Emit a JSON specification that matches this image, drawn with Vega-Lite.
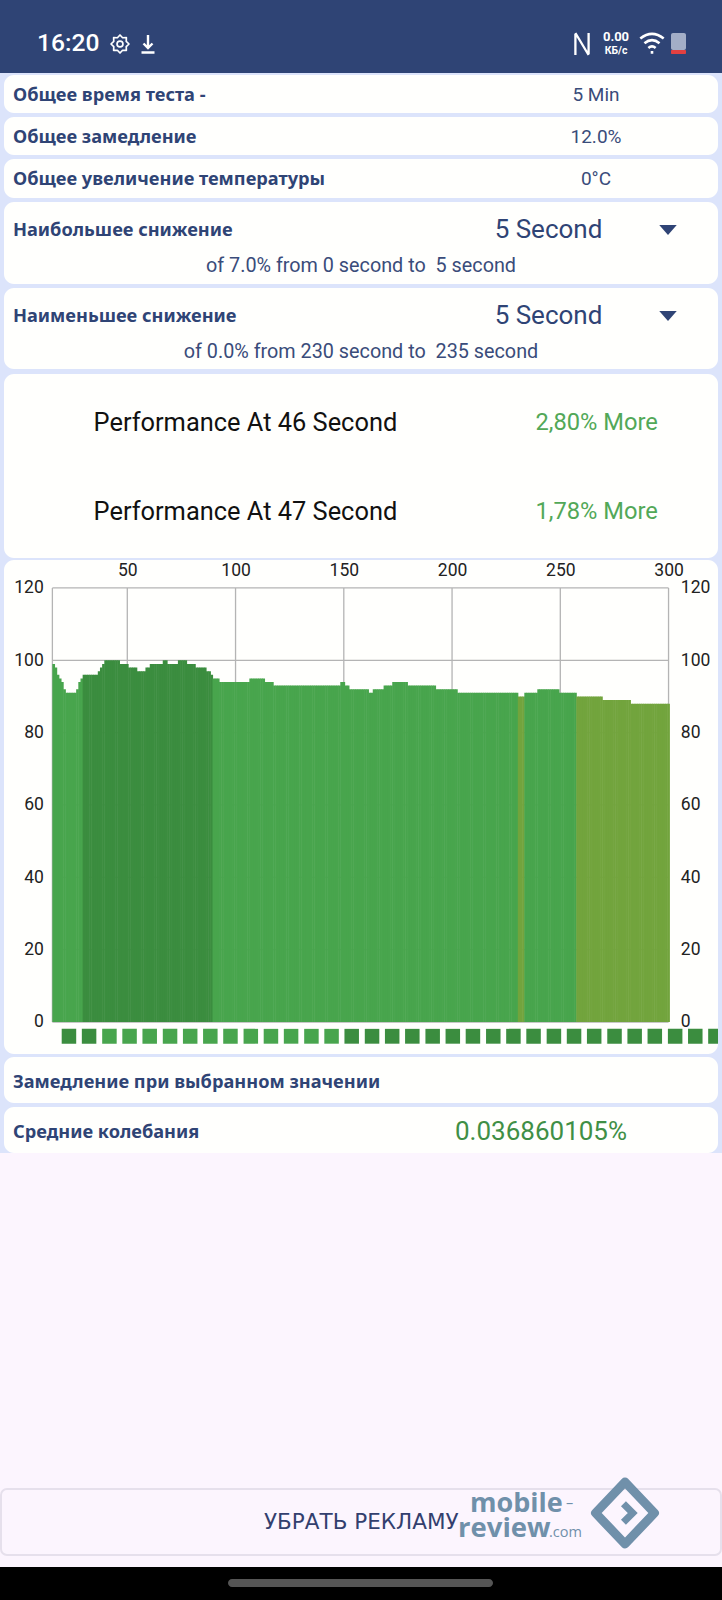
{
  "$schema": "https://vega.github.io/schema/vega-lite/v6.json",
  "padding": 0,
  "spacing": 0,
  "bounds": "flush",
  "center": true,
  "background": "#dce4fb",
  "config": {"view": {"stroke": null}, "text": {"font": "Roboto", "baseline": "middle"}},
  "datasets": {
    "bars": [
      {"second":16,"perf":99,"tone":"mid"},{"second":17,"perf":98,"tone":"mid"},{"second":18,"perf":96,"tone":"mid"},{"second":19,"perf":95,"tone":"mid"},{"second":20,"perf":94,"tone":"mid"},{"second":21,"perf":92,"tone":"mid"},{"second":22,"perf":91,"tone":"mid"},{"second":23,"perf":91,"tone":"mid"},{"second":24,"perf":91,"tone":"mid"},{"second":25,"perf":91,"tone":"mid"},{"second":26,"perf":91,"tone":"mid"},{"second":27,"perf":92,"tone":"mid"},{"second":28,"perf":94,"tone":"mid"},{"second":29,"perf":95,"tone":"mid"},
      {"second":30,"perf":96,"tone":"dark"},{"second":31,"perf":96,"tone":"dark"},{"second":32,"perf":96,"tone":"dark"},{"second":33,"perf":96,"tone":"dark"},{"second":34,"perf":96,"tone":"dark"},{"second":35,"perf":96,"tone":"dark"},{"second":36,"perf":96,"tone":"dark"},{"second":37,"perf":97,"tone":"dark"},{"second":38,"perf":98,"tone":"dark"},{"second":39,"perf":99,"tone":"dark"},
      {"second":40,"perf":100,"tone":"dark"},{"second":41,"perf":100,"tone":"dark"},{"second":42,"perf":100,"tone":"dark"},{"second":43,"perf":100,"tone":"dark"},{"second":44,"perf":100,"tone":"dark"},{"second":45,"perf":100,"tone":"dark"},{"second":46,"perf":100,"tone":"dark"},{"second":47,"perf":99,"tone":"dark"},{"second":48,"perf":99,"tone":"dark"},{"second":49,"perf":99,"tone":"dark"},
      {"second":50,"perf":99,"tone":"dark"},{"second":51,"perf":98,"tone":"dark"},{"second":52,"perf":98,"tone":"dark"},{"second":53,"perf":98,"tone":"dark"},{"second":54,"perf":98,"tone":"dark"},{"second":55,"perf":97,"tone":"dark"},{"second":56,"perf":97,"tone":"dark"},{"second":57,"perf":97,"tone":"dark"},{"second":58,"perf":97,"tone":"dark"},{"second":59,"perf":98,"tone":"dark"},
      {"second":60,"perf":98,"tone":"dark"},{"second":61,"perf":99,"tone":"dark"},{"second":62,"perf":99,"tone":"dark"},{"second":63,"perf":99,"tone":"dark"},{"second":64,"perf":99,"tone":"dark"},{"second":65,"perf":99,"tone":"dark"},{"second":66,"perf":99,"tone":"dark"},{"second":67,"perf":100,"tone":"dark"},{"second":68,"perf":100,"tone":"dark"},{"second":69,"perf":99,"tone":"dark"},
      {"second":70,"perf":99,"tone":"dark"},{"second":71,"perf":99,"tone":"dark"},{"second":72,"perf":99,"tone":"dark"},{"second":73,"perf":99,"tone":"dark"},{"second":74,"perf":100,"tone":"dark"},{"second":75,"perf":100,"tone":"dark"},{"second":76,"perf":100,"tone":"dark"},{"second":77,"perf":100,"tone":"dark"},{"second":78,"perf":99,"tone":"dark"},{"second":79,"perf":99,"tone":"dark"},
      {"second":80,"perf":99,"tone":"dark"},{"second":81,"perf":99,"tone":"dark"},{"second":82,"perf":98,"tone":"dark"},{"second":83,"perf":98,"tone":"dark"},{"second":84,"perf":98,"tone":"dark"},{"second":85,"perf":98,"tone":"dark"},{"second":86,"perf":98,"tone":"dark"},{"second":87,"perf":97,"tone":"dark"},{"second":88,"perf":97,"tone":"dark"},{"second":89,"perf":96,"tone":"dark"},
      {"second":90,"perf":95,"tone":"mid"},{"second":91,"perf":95,"tone":"mid"},{"second":92,"perf":95,"tone":"mid"},{"second":93,"perf":94,"tone":"mid"},{"second":94,"perf":94,"tone":"mid"},{"second":95,"perf":94,"tone":"mid"},{"second":96,"perf":94,"tone":"mid"},{"second":97,"perf":94,"tone":"mid"},{"second":98,"perf":94,"tone":"mid"},{"second":99,"perf":94,"tone":"mid"},
      {"second":100,"perf":94,"tone":"mid"},{"second":101,"perf":94,"tone":"mid"},{"second":102,"perf":94,"tone":"mid"},{"second":103,"perf":94,"tone":"mid"},{"second":104,"perf":94,"tone":"mid"},{"second":105,"perf":94,"tone":"mid"},{"second":106,"perf":94,"tone":"mid"},{"second":107,"perf":95,"tone":"mid"},{"second":108,"perf":95,"tone":"mid"},{"second":109,"perf":95,"tone":"mid"},
      {"second":110,"perf":95,"tone":"mid"},{"second":111,"perf":95,"tone":"mid"},{"second":112,"perf":95,"tone":"mid"},{"second":113,"perf":95,"tone":"mid"},{"second":114,"perf":94,"tone":"mid"},{"second":115,"perf":94,"tone":"mid"},{"second":116,"perf":94,"tone":"mid"},{"second":117,"perf":94,"tone":"mid"},{"second":118,"perf":93,"tone":"mid"},{"second":119,"perf":93,"tone":"mid"},
      {"second":120,"perf":93,"tone":"mid"},{"second":121,"perf":93,"tone":"mid"},{"second":122,"perf":93,"tone":"mid"},{"second":123,"perf":93,"tone":"mid"},{"second":124,"perf":93,"tone":"mid"},{"second":125,"perf":93,"tone":"mid"},{"second":126,"perf":93,"tone":"mid"},{"second":127,"perf":93,"tone":"mid"},{"second":128,"perf":93,"tone":"mid"},{"second":129,"perf":93,"tone":"mid"},
      {"second":130,"perf":93,"tone":"mid"},{"second":131,"perf":93,"tone":"mid"},{"second":132,"perf":93,"tone":"mid"},{"second":133,"perf":93,"tone":"mid"},{"second":134,"perf":93,"tone":"mid"},{"second":135,"perf":93,"tone":"mid"},{"second":136,"perf":93,"tone":"mid"},{"second":137,"perf":93,"tone":"mid"},{"second":138,"perf":93,"tone":"mid"},{"second":139,"perf":93,"tone":"mid"},
      {"second":140,"perf":93,"tone":"mid"},{"second":141,"perf":93,"tone":"mid"},{"second":142,"perf":93,"tone":"mid"},{"second":143,"perf":93,"tone":"mid"},{"second":144,"perf":93,"tone":"mid"},{"second":145,"perf":93,"tone":"mid"},{"second":146,"perf":93,"tone":"mid"},{"second":147,"perf":93,"tone":"mid"},{"second":148,"perf":93,"tone":"mid"},{"second":149,"perf":94,"tone":"mid"},
      {"second":150,"perf":94,"tone":"mid"},{"second":151,"perf":93,"tone":"mid"},{"second":152,"perf":93,"tone":"mid"},{"second":153,"perf":92,"tone":"mid"},{"second":154,"perf":92,"tone":"mid"},{"second":155,"perf":92,"tone":"mid"},{"second":156,"perf":92,"tone":"mid"},{"second":157,"perf":92,"tone":"mid"},{"second":158,"perf":92,"tone":"mid"},{"second":159,"perf":92,"tone":"mid"},
      {"second":160,"perf":92,"tone":"mid"},{"second":161,"perf":92,"tone":"mid"},{"second":162,"perf":91,"tone":"mid"},{"second":163,"perf":91,"tone":"mid"},{"second":164,"perf":92,"tone":"mid"},{"second":165,"perf":92,"tone":"mid"},{"second":166,"perf":92,"tone":"mid"},{"second":167,"perf":92,"tone":"mid"},{"second":168,"perf":92,"tone":"mid"},{"second":169,"perf":93,"tone":"mid"},
      {"second":170,"perf":93,"tone":"mid"},{"second":171,"perf":93,"tone":"mid"},{"second":172,"perf":93,"tone":"mid"},{"second":173,"perf":94,"tone":"mid"},{"second":174,"perf":94,"tone":"mid"},{"second":175,"perf":94,"tone":"mid"},{"second":176,"perf":94,"tone":"mid"},{"second":177,"perf":94,"tone":"mid"},{"second":178,"perf":94,"tone":"mid"},{"second":179,"perf":94,"tone":"mid"},
      {"second":180,"perf":93,"tone":"mid"},{"second":181,"perf":93,"tone":"mid"},{"second":182,"perf":93,"tone":"mid"},{"second":183,"perf":93,"tone":"mid"},{"second":184,"perf":93,"tone":"mid"},{"second":185,"perf":93,"tone":"mid"},{"second":186,"perf":93,"tone":"mid"},{"second":187,"perf":93,"tone":"mid"},{"second":188,"perf":93,"tone":"mid"},{"second":189,"perf":93,"tone":"mid"},
      {"second":190,"perf":93,"tone":"mid"},{"second":191,"perf":93,"tone":"mid"},{"second":192,"perf":93,"tone":"mid"},{"second":193,"perf":92,"tone":"mid"},{"second":194,"perf":92,"tone":"mid"},{"second":195,"perf":92,"tone":"mid"},{"second":196,"perf":92,"tone":"mid"},{"second":197,"perf":92,"tone":"mid"},{"second":198,"perf":92,"tone":"mid"},{"second":199,"perf":92,"tone":"mid"},
      {"second":200,"perf":92,"tone":"mid"},{"second":201,"perf":92,"tone":"mid"},{"second":202,"perf":92,"tone":"mid"},{"second":203,"perf":91,"tone":"mid"},{"second":204,"perf":91,"tone":"mid"},{"second":205,"perf":91,"tone":"mid"},{"second":206,"perf":91,"tone":"mid"},{"second":207,"perf":91,"tone":"mid"},{"second":208,"perf":91,"tone":"mid"},{"second":209,"perf":91,"tone":"mid"},
      {"second":210,"perf":91,"tone":"mid"},{"second":211,"perf":91,"tone":"mid"},{"second":212,"perf":91,"tone":"mid"},{"second":213,"perf":91,"tone":"mid"},{"second":214,"perf":91,"tone":"mid"},{"second":215,"perf":91,"tone":"mid"},{"second":216,"perf":91,"tone":"mid"},{"second":217,"perf":91,"tone":"mid"},{"second":218,"perf":91,"tone":"mid"},{"second":219,"perf":91,"tone":"mid"},
      {"second":220,"perf":91,"tone":"mid"},{"second":221,"perf":91,"tone":"mid"},{"second":222,"perf":91,"tone":"mid"},{"second":223,"perf":91,"tone":"mid"},{"second":224,"perf":91,"tone":"mid"},{"second":225,"perf":91,"tone":"mid"},{"second":226,"perf":91,"tone":"mid"},{"second":227,"perf":91,"tone":"mid"},{"second":228,"perf":91,"tone":"mid"},{"second":229,"perf":91,"tone":"mid"},
      {"second":230,"perf":91,"tone":"mid"},{"second":231,"perf":90,"tone":"olive"},{"second":232,"perf":90,"tone":"olive"},{"second":233,"perf":90,"tone":"olive"},{"second":234,"perf":91,"tone":"mid"},{"second":235,"perf":91,"tone":"mid"},{"second":236,"perf":91,"tone":"mid"},{"second":237,"perf":91,"tone":"mid"},{"second":238,"perf":91,"tone":"mid"},{"second":239,"perf":91,"tone":"mid"},
      {"second":240,"perf":92,"tone":"mid"},{"second":241,"perf":92,"tone":"mid"},{"second":242,"perf":92,"tone":"mid"},{"second":243,"perf":92,"tone":"mid"},{"second":244,"perf":92,"tone":"mid"},{"second":245,"perf":92,"tone":"mid"},{"second":246,"perf":92,"tone":"mid"},{"second":247,"perf":92,"tone":"mid"},{"second":248,"perf":92,"tone":"mid"},{"second":249,"perf":92,"tone":"mid"},
      {"second":250,"perf":91,"tone":"mid"},{"second":251,"perf":91,"tone":"mid"},{"second":252,"perf":91,"tone":"mid"},{"second":253,"perf":91,"tone":"mid"},{"second":254,"perf":91,"tone":"mid"},{"second":255,"perf":91,"tone":"mid"},{"second":256,"perf":91,"tone":"mid"},{"second":257,"perf":91,"tone":"mid"},{"second":258,"perf":90,"tone":"olive"},{"second":259,"perf":90,"tone":"olive"},
      {"second":260,"perf":90,"tone":"olive"},{"second":261,"perf":90,"tone":"olive"},{"second":262,"perf":90,"tone":"olive"},{"second":263,"perf":90,"tone":"olive"},{"second":264,"perf":90,"tone":"olive"},{"second":265,"perf":90,"tone":"olive"},{"second":266,"perf":90,"tone":"olive"},{"second":267,"perf":90,"tone":"olive"},{"second":268,"perf":90,"tone":"olive"},{"second":269,"perf":90,"tone":"olive"},
      {"second":270,"perf":89,"tone":"olive"},{"second":271,"perf":89,"tone":"olive"},{"second":272,"perf":89,"tone":"olive"},{"second":273,"perf":89,"tone":"olive"},{"second":274,"perf":89,"tone":"olive"},{"second":275,"perf":89,"tone":"olive"},{"second":276,"perf":89,"tone":"olive"},{"second":277,"perf":89,"tone":"olive"},{"second":278,"perf":89,"tone":"olive"},{"second":279,"perf":89,"tone":"olive"},
      {"second":280,"perf":89,"tone":"olive"},{"second":281,"perf":89,"tone":"olive"},{"second":282,"perf":89,"tone":"olive"},{"second":283,"perf":88,"tone":"olive"},{"second":284,"perf":88,"tone":"olive"},{"second":285,"perf":88,"tone":"olive"},{"second":286,"perf":88,"tone":"olive"},{"second":287,"perf":88,"tone":"olive"},{"second":288,"perf":88,"tone":"olive"},{"second":289,"perf":88,"tone":"olive"},
      {"second":290,"perf":88,"tone":"olive"},{"second":291,"perf":88,"tone":"olive"},{"second":292,"perf":88,"tone":"olive"},{"second":293,"perf":88,"tone":"olive"},{"second":294,"perf":88,"tone":"olive"},{"second":295,"perf":88,"tone":"olive"},{"second":296,"perf":88,"tone":"olive"},{"second":297,"perf":88,"tone":"olive"},{"second":298,"perf":88,"tone":"olive"},{"second":299,"perf":88,"tone":"olive"},{"second":300,"perf":88,"tone":"olive"}
    ],
    "slots": [
      {"start":19.7,"end":26.4,"tone":"dark"},{"start":29,"end":35.7,"tone":"dark"},{"start":38.4,"end":45.1,"tone":"mid"},{"start":47.7,"end":54.4,"tone":"mid"},{"start":57,"end":63.7,"tone":"mid"},{"start":66.4,"end":73.1,"tone":"mid"},{"start":75.7,"end":82.4,"tone":"mid"},{"start":85,"end":91.7,"tone":"mid"},{"start":94.3,"end":101,"tone":"mid"},{"start":103.7,"end":110.4,"tone":"mid"},{"start":113,"end":119.7,"tone":"mid"},{"start":122.3,"end":129,"tone":"mid"},{"start":131.7,"end":138.4,"tone":"mid"},{"start":141,"end":147.7,"tone":"mid"},
      {"start":150.3,"end":157,"tone":"dark"},{"start":159.7,"end":166.4,"tone":"dark"},{"start":169,"end":175.7,"tone":"dark"},{"start":178.3,"end":185,"tone":"dark"},{"start":187.7,"end":194.4,"tone":"dark"},{"start":197,"end":203.7,"tone":"dark"},{"start":206.3,"end":213,"tone":"dark"},{"start":215.7,"end":222.4,"tone":"dark"},{"start":225,"end":231.7,"tone":"dark"},{"start":234.3,"end":241,"tone":"dark"},{"start":243.7,"end":250.4,"tone":"dark"},{"start":253,"end":259.7,"tone":"dark"},{"start":262.3,"end":269,"tone":"dark"},{"start":271.7,"end":278.4,"tone":"dark"},{"start":281,"end":287.7,"tone":"dark"},{"start":290.3,"end":297,"tone":"dark"},{"start":299.7,"end":306.4,"tone":"dark"},{"start":309,"end":315.7,"tone":"dark"},{"start":318.3,"end":325,"tone":"dark"}
    ]
  },
  "vconcat": [
    {
      "width": 722,
      "height": 560,
      "encoding": {
        "x": {"field": "x", "type": "quantitative", "scale": {"domain": [0, 722], "nice": false, "zero": false}, "axis": null},
        "y": {"field": "y", "type": "quantitative", "scale": {"domain": [560, 0], "nice": false, "zero": false}, "axis": null}
      },
      "layer": [
        {
          "data": {"values": [{"x": 0, "x2": 722, "y": 0, "y2": 73}]},
          "mark": {"type": "rect", "color": "#2f4475"},
          "encoding": {"x2": {"field": "x2"}, "y2": {"field": "y2"}}
        },
        {
          "data": {"values": [
            {"x": 4, "x2": 718, "y": 75, "y2": 113},
            {"x": 4, "x2": 718, "y": 117, "y2": 155},
            {"x": 4, "x2": 718, "y": 159, "y2": 198},
            {"x": 4, "x2": 718, "y": 202, "y2": 284},
            {"x": 4, "x2": 718, "y": 288, "y2": 369},
            {"x": 4, "x2": 718, "y": 374, "y2": 558}
          ]},
          "mark": {"type": "rect", "color": "#fffffd", "cornerRadius": 10},
          "encoding": {"x2": {"field": "x2"}, "y2": {"field": "y2"}}
        },
        {
          "data": {"values": [
            {"x": 13, "y": 96, "label": "Общее время теста -"},
            {"x": 13, "y": 138, "label": "Общее замедление"},
            {"x": 13, "y": 180, "label": "Общее увеличение температуры"},
            {"x": 13, "y": 231, "label": "Наибольшее снижение"},
            {"x": 13, "y": 317, "label": "Наименьшее снижение"}
          ]},
          "mark": {"type": "text", "font": "Noto Sans", "fontWeight": 700, "fontSize": 18.2, "align": "left", "color": "#2f4475"},
          "encoding": {"text": {"field": "label"}}
        },
        {
          "data": {"values": [
            {"x": 596, "y": 95, "label": "5 Min"},
            {"x": 596, "y": 137, "label": "12.0%"},
            {"x": 596, "y": 179, "label": "0°C"}
          ]},
          "mark": {"type": "text", "fontSize": 19, "align": "center", "color": "#3a4c7a"},
          "encoding": {"text": {"field": "label"}}
        },
        {
          "data": {"values": [
            {"x": 361, "y": 266, "label": "of 7.0% from 0 second to \u00a05 second"},
            {"x": 361, "y": 352, "label": "of 0.0% from 230 second to \u00a0235 second"}
          ]},
          "mark": {"type": "text", "fontSize": 19.8, "align": "center", "color": "#3a4c7a"},
          "encoding": {"text": {"field": "label"}}
        },
        {
          "data": {"values": [{"x": 548.5, "y": 230, "label": "5 Second"}, {"x": 548.5, "y": 316, "label": "5 Second"}]},
          "mark": {"type": "text", "fontSize": 26, "align": "center", "color": "#2f4475"},
          "encoding": {"text": {"field": "label"}}
        },
        {
          "data": {"values": [{"x": 668, "y": 230}, {"x": 668, "y": 316}]},
          "mark": {"type": "point", "filled": true, "opacity": 1, "color": "#2f4475", "size": 306, "shape": "M-1 -0.57 L1 -0.57 L0 0.57 Z"},
          "encoding": {}
        },
        {
          "data": {"values": [{"x": 93.6, "y": 422.5, "label": "Performance At 46 Second"}, {"x": 93.6, "y": 511.5, "label": "Performance At 47 Second"}]},
          "mark": {"type": "text", "fontSize": 25.4, "align": "left", "color": "#111111"},
          "encoding": {"text": {"field": "label"}}
        },
        {
          "data": {"values": [{"x": 535.5, "y": 422.5, "label": "2,80% More"}, {"x": 535.5, "y": 511.5, "label": "1,78% More"}]},
          "mark": {"type": "text", "fontSize": 23.7, "align": "left", "color": "#52a858"},
          "encoding": {"text": {"field": "label"}}
        },
        {
          "data": {"values": [{"x": 37, "y": 44, "label": "16:20"}]},
          "mark": {"type": "text", "fontSize": 24.6, "fontWeight": 500, "align": "left", "color": "#ffffff"},
          "encoding": {"text": {"field": "label"}}
        },
        {
          "data": {"values": [{"x": 120, "y": 44}]},
          "mark": {"type": "point", "filled": false, "opacity": 1, "stroke": "#ffffff", "strokeWidth": 1.7, "strokeJoin": "round", "size": 324, "shape": "M0 -1 L0.287 -0.693 L0.707 -0.707 L0.693 -0.287 L1 0 L0.693 0.287 L0.707 0.707 L0.287 0.693 L0 1 L-0.287 0.693 L-0.707 0.707 L-0.693 0.287 L-1 0 L-0.693 -0.287 L-0.707 -0.707 L-0.287 -0.693 Z M0.33 0 A0.33 0.33 0 1 1 -0.33 0 A0.33 0.33 0 1 1 0.33 0"},
          "encoding": {}
        },
        {
          "data": {"values": [{"x": 148, "y": 44}]},
          "mark": {"type": "point", "filled": false, "opacity": 1, "stroke": "#ffffff", "strokeWidth": 2.4, "size": 400, "shape": "M0 -0.9 V0.35 M-0.45 -0.05 L0 0.4 L0.45 -0.05 M-0.65 0.85 H0.65"},
          "encoding": {}
        },
        {
          "data": {"values": [{"x": 582, "y": 44}]},
          "mark": {"type": "point", "filled": false, "opacity": 1, "stroke": "#ffffff", "strokeWidth": 2.3, "size": 484, "shape": "M-0.6 -0.9 V1 M-0.6 -1 L0.6 1 M0.6 -1 V0.9"},
          "encoding": {}
        },
        {
          "data": {"values": [{"x": 616, "y": 37, "label": "0.00"}]},
          "mark": {"type": "text", "fontSize": 13, "fontWeight": 700, "align": "center", "color": "#ffffff"},
          "encoding": {"text": {"field": "label"}}
        },
        {
          "data": {"values": [{"x": 616, "y": 51, "label": "КБ/с"}]},
          "mark": {"type": "text", "fontSize": 10.5, "fontWeight": 700, "align": "center", "color": "#ffffff"},
          "encoding": {"text": {"field": "label"}}
        },
        {
          "data": {"values": [{"x": 652, "y": 43}]},
          "mark": {"type": "point", "filled": false, "opacity": 1, "stroke": "#ffffff", "strokeWidth": 2.6, "size": 676, "shape": "M-0.9 -0.35 Q0 -1.05 0.9 -0.35 M-0.58 0.02 Q0 -0.45 0.58 0.02 M-0.28 0.38 Q0 0.14 0.28 0.38 M-0.1 0.72 H0.1"},
          "encoding": {}
        },
        {
          "data": {"values": [{"x": 671, "x2": 686, "y": 33, "y2": 50}]},
          "mark": {"type": "rect", "color": "#a3aec7", "cornerRadius": 2},
          "encoding": {"x2": {"field": "x2"}, "y2": {"field": "y2"}}
        },
        {
          "data": {"values": [{"x": 671, "x2": 686, "y": 50, "y2": 54}]},
          "mark": {"type": "rect", "color": "#e34040", "cornerRadius": 1},
          "encoding": {"x2": {"field": "x2"}, "y2": {"field": "y2"}}
        }
      ]
    },
    {
      "width": 714,
      "height": 494,
      "view": {"fill": "#fffffd", "cornerRadius": 10, "stroke": null},
      "resolve": {"axis": {"y": "independent"}},
      "layer": [
        {
          "data": {"values": [{"second": 15.4}, {"second": 50}, {"second": 100}, {"second": 150}, {"second": 200}, {"second": 250}, {"second": 300}]},
          "mark": {"type": "rule", "color": "#b4b4b4", "strokeWidth": 1.3},
          "encoding": {
            "x": {"field": "second", "type": "quantitative", "scale": {"domain": [-6.95, 322.84], "nice": false, "zero": false, "padding": 0}, "title": null, "axis": {"orient": "top", "offset": -27.7, "values": [50, 100, 150, 200, 250, 300], "domain": false, "ticks": false, "grid": false, "labelPadding": 8, "labelFont": "Roboto", "labelFontSize": 17.5, "labelColor": "#222222", "title": null}},
            "y": {"datum": 0, "type": "quantitative", "scale": {"domain": [-8.85, 127.73], "nice": false, "zero": false, "padding": 0}, "axis": null},
            "y2": {"datum": 120}
          }
        },
        {
          "data": {"values": [{"perf": 0}, {"perf": 20}, {"perf": 40}, {"perf": 60}, {"perf": 80}, {"perf": 100}, {"perf": 120}]},
          "mark": {"type": "rule", "color": "#b4b4b4", "strokeWidth": 1.3},
          "encoding": {
            "x": {"datum": 15.4, "type": "quantitative"},
            "x2": {"datum": 300},
            "y": {"field": "perf", "type": "quantitative", "title": null, "axis": {"orient": "right", "offset": -48.7, "values": [0, 20, 40, 60, 80, 100, 120], "domain": false, "ticks": false, "grid": false, "labelPadding": 11, "labelFont": "Roboto", "labelFontSize": 17.5, "labelColor": "#222222", "title": null}}
          }
        },
        {
          "data": {"name": "bars"},
          "mark": {"type": "bar", "orient": "vertical", "size": 2.7},
          "encoding": {
            "x": {"field": "second", "type": "quantitative", "title": null},
            "y": {"field": "perf", "type": "quantitative", "stack": null, "title": null, "axis": {"orient": "left", "offset": -48.3, "values": [0, 20, 40, 60, 80, 100, 120], "domain": false, "ticks": false, "grid": false, "labelPadding": 9, "labelFont": "Roboto", "labelFontSize": 17.5, "labelColor": "#222222", "title": null}},
            "color": {"field": "tone", "type": "nominal", "scale": {"domain": ["dark", "mid", "olive"], "range": ["#3b8d3f", "#48a54d", "#72a43d"]}, "legend": null}
          }
        },
        {
          "data": {"name": "slots"},
          "mark": {"type": "rect", "clip": true},
          "encoding": {
            "x": {"field": "start", "type": "quantitative", "title": null},
            "x2": {"field": "end"},
            "y": {"datum": -1.9, "type": "quantitative", "axis": null},
            "y2": {"datum": -6},
            "color": {"field": "tone", "type": "nominal", "legend": null}
          }
        }
      ]
    },
    {
      "width": 722,
      "height": 546,
      "encoding": {
        "x": {"field": "x", "type": "quantitative", "scale": {"domain": [0, 722], "nice": false, "zero": false}, "axis": null},
        "y": {"field": "y", "type": "quantitative", "scale": {"domain": [1600, 1054], "nice": false, "zero": false}, "axis": null}
      },
      "layer": [
        {
          "data": {"values": [{"x": 0, "x2": 722, "y": 1153, "y2": 1600}]},
          "mark": {"type": "rect", "color": "#fcf5fe"},
          "encoding": {"x2": {"field": "x2"}, "y2": {"field": "y2"}}
        },
        {
          "data": {"values": [{"x": 4, "x2": 718, "y": 1057, "y2": 1103}, {"x": 4, "x2": 718, "y": 1107, "y2": 1153}]},
          "mark": {"type": "rect", "color": "#fffffd", "cornerRadius": 10},
          "encoding": {"x2": {"field": "x2"}, "y2": {"field": "y2"}}
        },
        {
          "data": {"values": [{"x": 1, "x2": 721, "y": 1489, "y2": 1555}]},
          "mark": {"type": "rect", "color": "#fcf5fe", "stroke": "#e6e0ec", "strokeWidth": 2, "cornerRadius": 6},
          "encoding": {"x2": {"field": "x2"}, "y2": {"field": "y2"}}
        },
        {
          "data": {"values": [{"x": 0, "x2": 722, "y": 1567, "y2": 1600}]},
          "mark": {"type": "rect", "color": "#000000"},
          "encoding": {"x2": {"field": "x2"}, "y2": {"field": "y2"}}
        },
        {
          "data": {"values": [{"x": 228, "x2": 493, "y": 1579, "y2": 1587}]},
          "mark": {"type": "rect", "color": "#555555", "cornerRadius": 4},
          "encoding": {"x2": {"field": "x2"}, "y2": {"field": "y2"}}
        },
        {
          "data": {"values": [{"x": 13, "y": 1083, "label": "Замедление при выбранном значении"}, {"x": 13, "y": 1133, "label": "Средние колебания"}]},
          "mark": {"type": "text", "font": "Noto Sans", "fontWeight": 700, "fontSize": 18.2, "align": "left", "color": "#2f4475"},
          "encoding": {"text": {"field": "label"}}
        },
        {
          "data": {"values": [{"x": 541, "y": 1132, "label": "0.036860105%"}]},
          "mark": {"type": "text", "fontSize": 26, "align": "center", "color": "#3f8f46"},
          "encoding": {"text": {"field": "label"}}
        },
        {
          "data": {"values": [{"x": 264, "y": 1523, "label": "УБРАТЬ РЕКЛАМУ"}]},
          "mark": {"type": "text", "font": "DejaVu Sans", "fontSize": 21.5, "align": "left", "color": "#333f6e"},
          "encoding": {"text": {"field": "label"}}
        },
        {
          "data": {"values": [{"x": 470, "y": 1512, "label": "mobile"}]},
          "mark": {"type": "text", "font": "Open Sans", "fontWeight": 700, "fontSize": 27, "baseline": "alphabetic", "align": "left", "color": "#7090aa"},
          "encoding": {"text": {"field": "label"}}
        },
        {
          "data": {"values": [{"x": 458, "y": 1537, "label": "review"}]},
          "mark": {"type": "text", "font": "Open Sans", "fontWeight": 700, "fontSize": 27.5, "baseline": "alphabetic", "align": "left", "color": "#7090aa"},
          "encoding": {"text": {"field": "label"}}
        },
        {
          "data": {"values": [{"x": 549, "y": 1537, "label": ".com"}, {"x": 566, "y": 1508, "label": "–"}]},
          "mark": {"type": "text", "font": "Open Sans", "fontSize": 14.5, "baseline": "alphabetic", "align": "left", "color": "#7090aa"},
          "encoding": {"text": {"field": "label"}}
        },
        {
          "data": {"values": [{"x": 625, "y": 1513}]},
          "mark": {"type": "point", "filled": false, "opacity": 1, "stroke": "#7090aa", "strokeWidth": 9, "strokeJoin": "round", "size": 3844, "shape": "M0 -1 L0.95 0 L0 1 L-0.95 0 Z"},
          "encoding": {}
        },
        {
          "data": {"values": [{"x": 625, "y": 1513}]},
          "mark": {"type": "point", "filled": false, "opacity": 1, "stroke": "#7090aa", "strokeWidth": 7, "size": 3844, "shape": "M-0.05 -0.3 L0.25 0 L-0.05 0.3"},
          "encoding": {}
        }
      ]
    }
  ]
}
